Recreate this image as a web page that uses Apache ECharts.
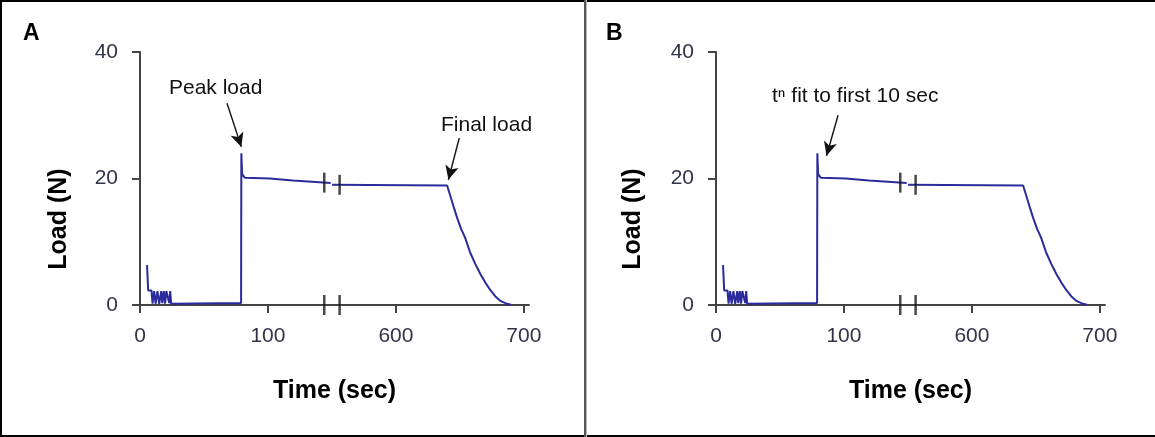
<!DOCTYPE html>
<html><head><meta charset="utf-8">
<script src="https://cdn.jsdelivr.net/npm/echarts@6/dist/echarts.min.js"></script>
<style>html,body{margin:0;padding:0;background:#fff}#c{width:1155px;height:437px}</style>
</head><body><div id="c"></div>
<script>
// ---- data (time in seconds, load in newtons) ----
const timeBefore = [5.5, 6.3, 6.4, 9.0, 9.8, 11.0, 12.2, 13.6, 15.0, 16.6, 17.4, 18.6, 19.6, 20.6, 21.4, 22.8, 23.6, 24.4, 25.4, 79.0, 79.2, 79.8, 81.0, 82.0, 101.5, 102.0, 119.5, 120.0, 149.0];
const loadBefore = [6.3, 6.3, 2.3, 2.3, 0.2, 2.2, 0.2, 2.2, 0.2, 2.2, 0.3, 2.2, 0.2, 2.2, 2.2, 0.3, 2.2, 0.2, 0.3, 0.3, 24.0, 20.7, 20.5, 20.1, 20.0, 19.8, 19.7, 19.4, 19.3];
const timeAfter = [550, 640, 642, 645, 648, 651, 654, 658, 662, 666, 670, 674, 678, 682, 686, 690];
const loadAfter = [19.0, 18.9, 17.6, 15.6, 13.7, 12.0, 10.7, 8.3, 6.5, 4.9, 3.5, 2.3, 1.3, 0.6, 0.25, 0.05];
const xTickTimes = [0, 100, 600, 700];
const xTickLabels = ['0', '100', '600', '700'];
const yTicks = [0, 20, 40];
const breakMarkTimes = [144, 556];
const breakMarkLoads = [19.35, 19.0];
const panelLabels = ['A', 'B'];

// axis break: seconds 150..550 are cut out of the time axis
const breakStart = 150, breakShift = 400;
const toAxis = t => (t > breakStart ? t - breakShift : t);

const lineColor = '#2b2b9c';
const FONT = '"Liberation Sans", Arial, sans-serif';

function pts(ts, ls) { return ts.map((t, i) => [toAxis(t), ls[i]]); }

const grids = [
  { left: 140, top: 52, width: 389, height: 253 },
  { left: 716, top: 52, width: 389, height: 253 }
];

const xAxes = grids.map((g, i) => ({
  type: 'value', gridIndex: i, min: 0, max: 304,
  axisLine: { show: true, lineStyle: { color: '#444', width: 2 } },
  axisTick: { show: true, length: 8, inside: false, customValues: xTickTimes.map(toAxis), lineStyle: { color: '#444', width: 2 } },
  axisLabel: { customValues: xTickTimes.map(toAxis), margin: 21, fontSize: 21, fontFamily: FONT, color: '#33334a',
    formatter: v => xTickLabels[xTickTimes.map(toAxis).indexOf(Math.round(v))] },
  splitLine: { show: false },
  name: 'Time (sec)', nameLocation: 'middle', nameGap: 74,
  nameTextStyle: { fontSize: 25, fontWeight: 'bold', fontFamily: FONT, color: '#000' }
}));
const yAxes = grids.map((g, i) => ({
  type: 'value', gridIndex: i, min: yTicks[0], max: yTicks[yTicks.length - 1], interval: 20,
  axisLine: { show: true, lineStyle: { color: '#444', width: 2 } },
  axisTick: { show: true, length: 8, lineStyle: { color: '#444', width: 2 } },
  axisLabel: { margin: 22, fontSize: 21, fontFamily: FONT, color: '#33334a' },
  splitLine: { show: false }
}));

const arrowsA = [
  [[68, 31.9], [79.2, 25.0]],
  [[249.5, 26.4], [241.0, 19.8]]
];
const arrowsB = [
  [[95.4, 30.0], [86.4, 23.6]]
];

const series = [];
grids.forEach((g, i) => {
  const arrows = i === 0 ? arrowsA : arrowsB;
  series.push({
    type: 'line', xAxisIndex: i, yAxisIndex: i, data: pts(timeBefore, loadBefore),
    showSymbol: false, lineStyle: { color: lineColor, width: 2 }, animation: false,
    markLine: {
      silent: true, animation: false, symbol: ['none', 'arrow'], symbolSize: [10, 14],
      label: { show: false },
      lineStyle: { color: '#111', width: 1.4, type: 'solid' },
      data: arrows.map(a => [{ coord: a[0] }, { coord: a[1] }])
    }
  });
  series.push({
    type: 'line', xAxisIndex: i, yAxisIndex: i, data: pts(timeAfter, loadAfter),
    showSymbol: false, lineStyle: { color: lineColor, width: 2 }, animation: false
  });
  const marks = [];
  breakMarkTimes.forEach((t, k) => {
    marks.push([toAxis(t), 0]);
    marks.push([toAxis(t), breakMarkLoads[k]]);
  });
  series.push({
    type: 'scatter', xAxisIndex: i, yAxisIndex: i, data: marks, z: 5,
    symbol: 'rect', symbolSize: [2.5, 20], itemStyle: { color: '#1a1a1a' }, animation: false, silent: true
  });
});

const graphic = [
  { type: 'rect', shape: { x: 0, y: 0, width: 1155, height: 2 }, style: { fill: '#000' } },
  { type: 'rect', shape: { x: 0, y: 435, width: 1155, height: 2 }, style: { fill: '#000' } },
  { type: 'rect', shape: { x: 0, y: 0, width: 2, height: 437 }, style: { fill: '#000' } },
  { type: 'rect', shape: { x: 584, y: 0, width: 2, height: 437 }, style: { fill: '#555' } },
  { type: 'rect', shape: { x: 586, y: 0, width: 1, height: 437 }, style: { fill: '#bbb' } },
  { type: 'text', x: 23, y: 34, style: { text: panelLabels[0], font: 'bold 23px ' + FONT, fill: '#000', verticalAlign: 'middle' } },
  { type: 'text', x: 606, y: 34, style: { text: panelLabels[1], font: 'bold 23px ' + FONT, fill: '#000', verticalAlign: 'middle' } },
  { type: 'text', x: 59, y: 219, rotation: Math.PI / 2, style: { text: 'Load (N)', font: 'bold 25px ' + FONT, fill: '#000', align: 'center', verticalAlign: 'middle' } },
  { type: 'text', x: 633, y: 219, rotation: Math.PI / 2, style: { text: 'Load (N)', font: 'bold 25px ' + FONT, fill: '#000', align: 'center', verticalAlign: 'middle' } },
  { type: 'text', x: 169, y: 88, style: { text: 'Peak load', font: '21px ' + FONT, fill: '#111', verticalAlign: 'middle' } },
  { type: 'text', x: 441, y: 125, style: { text: 'Final load', font: '21px ' + FONT, fill: '#111', verticalAlign: 'middle' } },
  { type: 'text', x: 772, y: 96, style: { text: 't\u207F fit to first 10 sec', font: '21px ' + FONT, fill: '#111', verticalAlign: 'middle' } }
];

const chart = echarts.init(document.getElementById('c'), null, { renderer: 'canvas' });
chart.setOption({
  animation: false,
  backgroundColor: '#fff',
  grid: grids,
  xAxis: xAxes,
  yAxis: yAxes,
  series: series,
  graphic: graphic
});
</script>
</body></html>
